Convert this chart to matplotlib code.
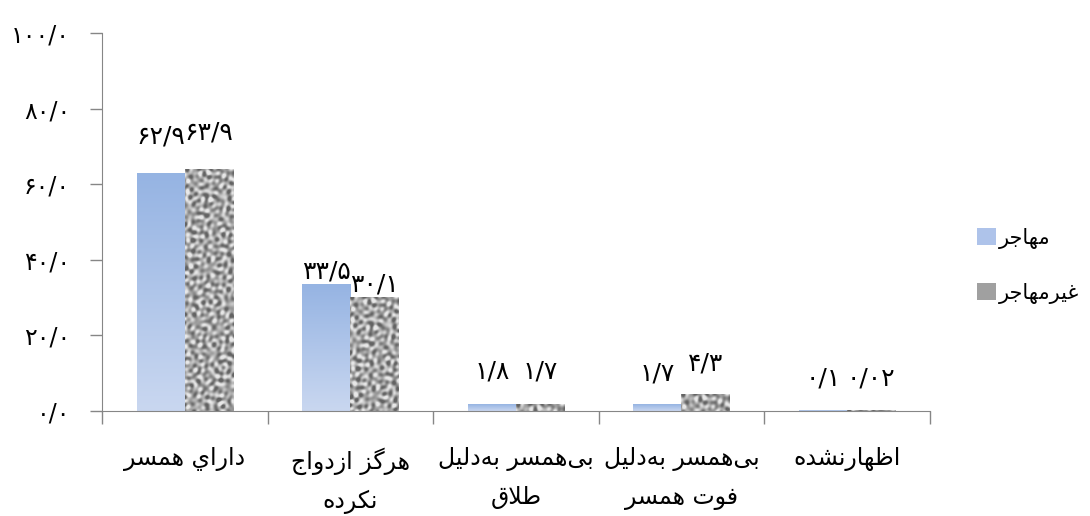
import matplotlib
matplotlib.use("Agg")
import matplotlib.pyplot as plt
from matplotlib.patches import Patch
import numpy as np

categories = ["داراي همسر", "هرگز ازدواج\nنکرده", "بی‌همسر به‌دلیل\nطلاق",
              "بی‌همسر به‌دلیل\nفوت همسر", "اظهارنشده"]
series_names = ["مهاجر", "غیرمهاجر"]
migrant = [62.9, 33.5, 1.8, 1.7, 0.1]
non_migrant = [63.9, 30.1, 1.7, 4.3, 0.02]
value_labels_m = ["62/9", "33/5", "1/8", "1/7", "0/1"]
value_labels_n = ["63/9", "30/1", "1/7", "4/3", "0/02"]
yticks = [0, 20, 40, 60, 80, 100]

# matplotlib has no arabic shaping, so pick presentation forms by hand
FORMS = {
    "ا": (0xFE8D, 0xFE8E, None, None), "ب": (0xFE8F, 0xFE90, 0xFE91, 0xFE92),
    "ت": (0xFE95, 0xFE96, 0xFE97, 0xFE98), "ج": (0xFE9D, 0xFE9E, 0xFE9F, 0xFEA0),
    "د": (0xFEA9, 0xFEAA, None, None), "ر": (0xFEAD, 0xFEAE, None, None),
    "ز": (0xFEAF, 0xFEB0, None, None), "س": (0xFEB1, 0xFEB2, 0xFEB3, 0xFEB4),
    "ش": (0xFEB5, 0xFEB6, 0xFEB7, 0xFEB8), "ط": (0xFEC1, 0xFEC2, 0xFEC3, 0xFEC4),
    "ظ": (0xFEC5, 0xFEC6, 0xFEC7, 0xFEC8), "غ": (0xFECD, 0xFECE, 0xFECF, 0xFED0),
    "ف": (0xFED1, 0xFED2, 0xFED3, 0xFED4), "ق": (0xFED5, 0xFED6, 0xFED7, 0xFED8),
    "ل": (0xFEDD, 0xFEDE, 0xFEDF, 0xFEE0), "م": (0xFEE1, 0xFEE2, 0xFEE3, 0xFEE4),
    "ن": (0xFEE5, 0xFEE6, 0xFEE7, 0xFEE8), "ه": (0xFEE9, 0xFEEA, 0xFEEB, 0xFEEC),
    "و": (0xFEED, 0xFEEE, None, None), "ي": (0xFEF1, 0xFEF2, 0xFEF3, 0xFEF4),
    "ی": (0xFBFC, 0xFBFD, 0xFBFE, 0xFBFF), "ک": (0xFB8E, 0xFB8F, 0xFB90, 0xFB91),
    "گ": (0xFB92, 0xFB93, 0xFB94, 0xFB95),
}
PERSIAN_DIGITS = str.maketrans("0123456789", "۰۱۲۳۴۵۶۷۸۹")


def shape_line(s):
    out = []
    i = 0
    while i < len(s):
        c = s[i]
        if c not in FORMS:
            if c != "\u200c":
                out.append(c)
            i += 1
            continue
        prev = s[i - 1] if i > 0 else ""
        joins_prev = prev in FORMS and FORMS[prev][2] is not None
        if c == "ل" and i + 1 < len(s) and s[i + 1] == "ا":
            out.append(chr(0xFEFC if joins_prev else 0xFEFB))
            i += 2
            continue
        nxt = s[i + 1] if i + 1 < len(s) else ""
        joins_next = nxt in FORMS and FORMS[c][2] is not None
        iso, fin, ini, med = FORMS[c]
        if joins_prev and joins_next:
            out.append(chr(med))
        elif joins_prev:
            out.append(chr(fin))
        elif joins_next:
            out.append(chr(ini))
        else:
            out.append(chr(iso))
        i += 1
    return "".join(reversed(out))


def fa(s):
    return "\n".join(shape_line(line) for line in s.split("\n"))


def fa_num(s):
    return s.translate(PERSIAN_DIGITS)


def noise_texture(rows, cols):
    # granite-like texture from many fixed sine waves (golden-angle directions)
    yy, xx = np.mgrid[0:rows, 0:cols].astype(float)
    t = np.zeros_like(xx)
    n = 24
    for k in range(n):
        ang = np.deg2rad(137.508 * k)
        f = 0.55 + 0.6 * ((k * 0.618) % 1.0)
        t += np.sin(f * (np.cos(ang) * xx + np.sin(ang) * yy) + 2.399 * k * k)
    t /= np.sqrt(n / 2.0)
    t = np.clip(t * 0.6, -1, 1)
    return 0.65 + 0.26 * t


plt.rcParams['font.family'] = ['DejaVu Sans']

fig = plt.figure(figsize=(10.9, 5.16), dpi=100)
ax = fig.add_axes([0.0936, 0.2035, 0.7594, 0.7325])

x = np.arange(len(categories))
w = 0.29
bars_m = ax.bar(x - w / 2, migrant, w, color="none", edgecolor="none")
bars_n = ax.bar(x + w / 2, non_migrant, w, color="none", edgecolor="none")

grad = np.linspace(0, 1, 64).reshape(-1, 1)
top_c = np.array([0.588, 0.706, 0.890])
bot_c = np.array([0.788, 0.843, 0.941])
grad_img = (top_c * (1 - grad[..., None]) + bot_c * grad[..., None])
px_per_unit = 378 / 100.0
for b in bars_m:
    x0, h, bw = b.get_x(), b.get_height(), b.get_width()
    ax.imshow(grad_img, extent=[x0, x0 + bw, 0, h], aspect="auto",
              origin="upper", zorder=2, interpolation="bilinear")
for b in bars_n:
    x0, h, bw = b.get_x(), b.get_height(), b.get_width()
    rows = max(2, int(h * px_per_unit))
    tex = noise_texture(rows, 48)
    ax.imshow(tex, extent=[x0, x0 + bw, 0, h], aspect="auto", cmap="gray",
              vmin=0, vmax=1, origin="upper", zorder=2, interpolation="bilinear")

label_pad = [37, 13, 33, 31, 32]
for i in range(len(categories)):
    for b, lab in ((bars_m[i], value_labels_m[i]), (bars_n[i], value_labels_n[i])):
        ax.annotate(fa_num(lab), (b.get_x() + b.get_width() / 2, b.get_height()),
                    xytext=(0, label_pad[i]), textcoords="offset pixels",
                    ha="center", va="center", fontsize=18)

ax.set_xlim(-0.5, len(categories) - 0.5)
ax.set_ylim(0, 100)
ax.set_yticks(yticks)
ax.set_yticklabels([fa_num(f"{v}/0") for v in yticks], fontsize=17)
ax.set_xticks(np.arange(len(categories) + 1) - 0.5)
ax.set_xticklabels([])
ax.set_xticks(x, minor=True)
ax.set_xticklabels([fa(c) for c in categories], minor=True, fontsize=17,
                   linespacing=1.75)
ax.tick_params(axis="x", which="minor", length=0, pad=26)
ax.tick_params(axis="x", which="major", length=9, color="#868686", width=1)
ax.tick_params(axis="y", length=9, color="#868686", width=1, pad=14)
for side in ("top", "right"):
    ax.spines[side].set_visible(False)
for side in ("left", "bottom"):
    ax.spines[side].set_color("#868686")

handles = [Patch(facecolor="#aec3ea", edgecolor="none"),
           Patch(facecolor="#a0a0a0", edgecolor="none")]
fig.legend(handles, [fa(n) for n in series_names], loc="center left",
           bbox_to_anchor=(0.879, 0.485), frameon=False, fontsize=15,
           handlelength=0.9, handleheight=0.9, handletextpad=0.15,
           labelspacing=1.65)

fig.savefig("out.png", dpi=100)
